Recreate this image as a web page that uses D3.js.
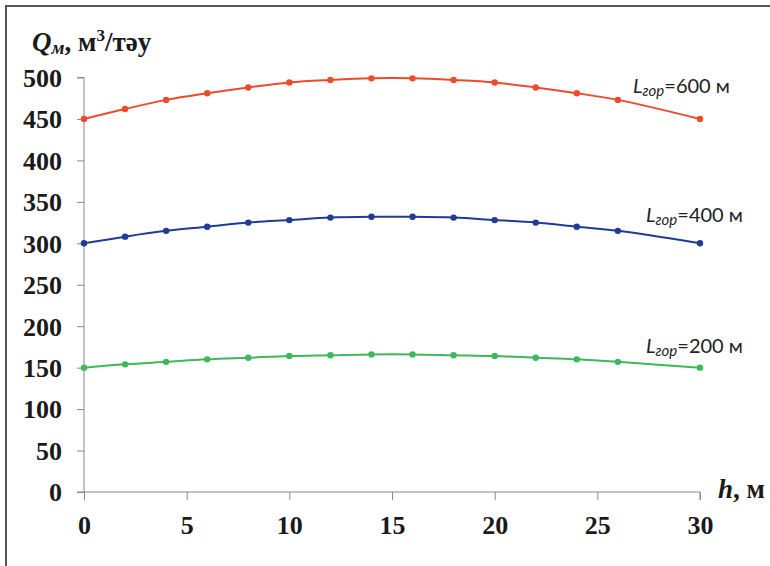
<!DOCTYPE html>
<html>
<head>
<meta charset="utf-8">
<script src="https://cdn.jsdelivr.net/npm/d3@7"></script>
<style>
  html, body { margin: 0; padding: 0; background: #fff; }
  svg { display: block; }
</style>
</head>
<body>
<svg id="chart" width="770" height="566"></svg>
<script>
// Depth h, m
const depths = [0, 2, 4, 6, 8, 10, 12, 14, 16, 18, 20, 22, 24, 26, 30];

// Flow rate Q, m3/day, for each horizontal length
const q600 = [450, 462, 473, 481, 488, 494, 497, 499, 499, 497, 494, 488, 481, 473, 450];
const q400 = [300, 308, 315, 320, 325, 328, 331, 332, 332, 331, 328, 325, 320, 315, 300];
const q200 = [150, 154, 157, 160, 162, 164, 165, 166, 166, 165, 164, 162, 160, 157, 150];

const seriesNames = ["600", "400", "200"];
const seriesValues = [q600, q400, q200];
const seriesColors = ["#ee4a2c", "#1f3b96", "#3db85a"];

const xTicks = [0, 5, 10, 15, 20, 25, 30];
const yTicks = [0, 50, 100, 150, 200, 250, 300, 350, 400, 450, 500];

const svg = d3.select("#chart");

// outer frame
svg.append("path")
  .attr("d", "M6,566 V6 H770")
  .attr("fill", "none")
  .attr("stroke", "#555")
  .attr("stroke-width", 2);

const x = d3.scaleLinear().domain([0, 30]).range([84, 700]);
const y = d3.scaleLinear().domain([0, 500]).range([492, 77.5]);

const serif = "'Liberation Serif', 'Times New Roman', serif";

// y axis
const yAxis = svg.append("g")
  .attr("transform", `translate(${x(0)},0)`)
  .call(d3.axisLeft(y).tickValues(yTicks).tickSize(7).tickPadding(15).tickFormat(d3.format("d")));
yAxis.select(".domain").attr("stroke", "#888").attr("d", `M-7,${y(500)}H0V${y(0)}`);
yAxis.selectAll(".tick line").attr("stroke", "#888");
yAxis.selectAll(".tick text")
  .attr("font-family", serif).attr("font-weight", "bold").attr("font-size", 26)
  .attr("fill", "#1a1a1a").attr("dy", "0.34em");

// x axis
const xAxis = svg.append("g")
  .attr("transform", `translate(0,${y(0)})`)
  .call(d3.axisBottom(x).tickValues(xTicks).tickSize(8).tickPadding(16).tickFormat(d3.format("d")));
xAxis.select(".domain").attr("stroke", "#888").attr("d", `M${x(0) - 7},0H${x(30)}V8`);
xAxis.selectAll(".tick line").attr("stroke", "#888");
xAxis.selectAll(".tick text")
  .attr("font-family", serif).attr("font-weight", "bold").attr("font-size", 26)
  .attr("fill", "#1a1a1a").attr("dy", "0.71em");

// series lines and markers
const line = d3.line()
  .x((d, i) => x(depths[i]))
  .y(d => y(d))
  .curve(d3.curveCatmullRom);

seriesValues.forEach((vals, k) => {
  svg.append("path")
    .attr("d", line(vals))
    .attr("fill", "none")
    .attr("stroke", seriesColors[k])
    .attr("stroke-width", 2);
  svg.append("g").selectAll("circle")
    .data(vals)
    .join("circle")
    .attr("cx", (d, i) => x(depths[i]))
    .attr("cy", d => y(d))
    .attr("r", 3.2)
    .attr("fill", seriesColors[k]);
});

// series labels
const labelPos = [[633, 93], [646, 222], [646, 353]];
seriesNames.forEach((name, k) => {
  const t = svg.append("text")
    .attr("x", labelPos[k][0]).attr("y", labelPos[k][1])
    .attr("font-family", "Lato, 'Noto Sans', sans-serif")
    .attr("font-size", 20).attr("fill", "#222");
  t.append("tspan").attr("font-style", "italic").text("L");
  t.append("tspan").attr("font-style", "italic").attr("font-size", 15).attr("dy", 3).text("гор");
  t.append("tspan").attr("dy", -3).text(`=${name} м`);
});

// y axis title
const yt = svg.append("text")
  .attr("x", 32).attr("y", 51)
  .attr("font-family", serif).attr("font-weight", "bold").attr("font-size", 27)
  .attr("fill", "#1a1a1a");
yt.append("tspan").attr("font-style", "italic").text("Q");
yt.append("tspan").attr("font-style", "italic").attr("font-size", 19).attr("dy", 3).text("м");
yt.append("tspan").attr("dy", -3).text(", м");
yt.append("tspan").attr("font-size", 17).attr("dy", -10).text("3");
yt.append("tspan").attr("dy", 10).text("/тәу");

// x axis title
const xt = svg.append("text")
  .attr("x", 718).attr("y", 498)
  .attr("font-family", serif).attr("font-weight", "bold").attr("font-size", 27)
  .attr("fill", "#1a1a1a");
xt.append("tspan").attr("font-style", "italic").text("h");
xt.append("tspan").text(", м");
</script>
</body>
</html>
